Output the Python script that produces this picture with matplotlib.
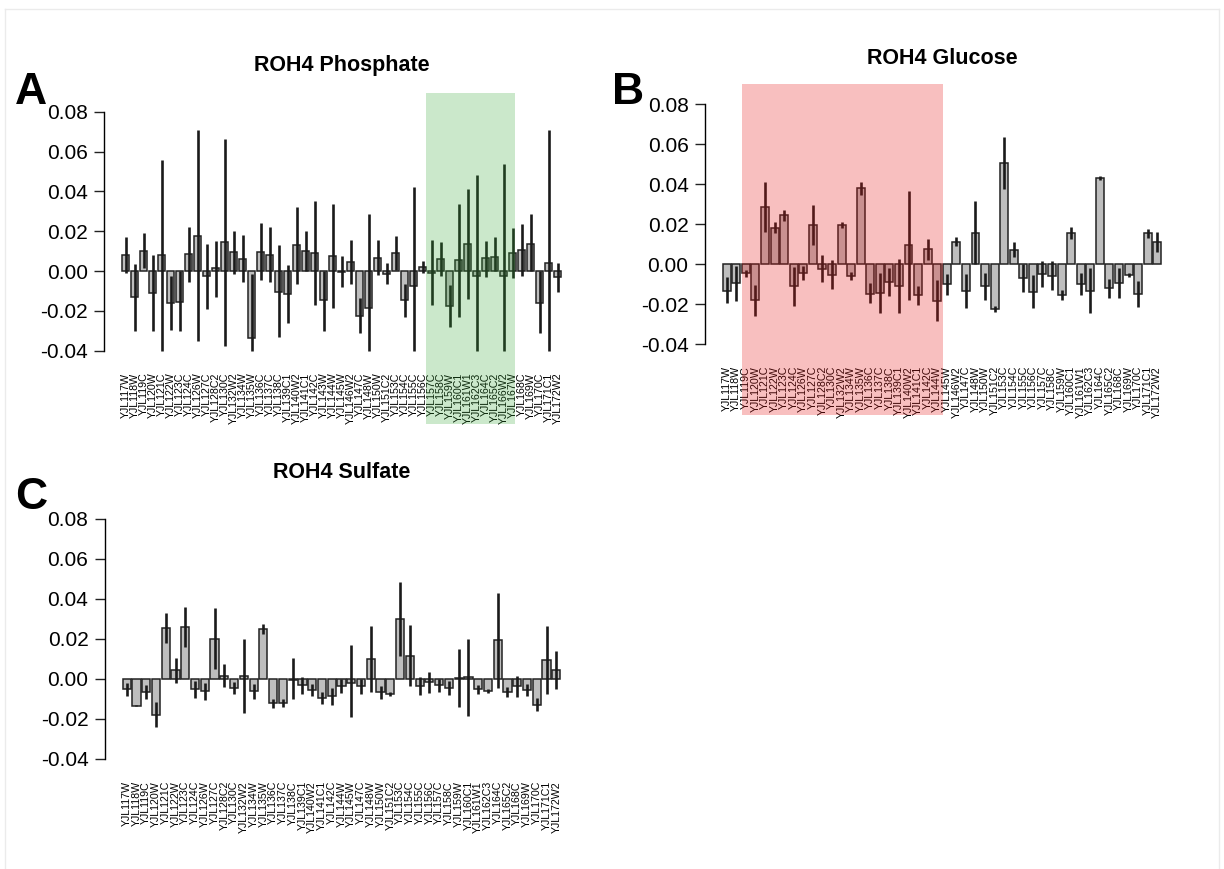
import numpy as np
import matplotlib
matplotlib.use("Agg")
import matplotlib.pyplot as plt
from matplotlib.patches import Rectangle
from matplotlib.lines import Line2D
from matplotlib.transforms import blended_transform_factory

plt.rcParams['font.family'] = ['Liberation Sans', 'DejaVu Sans']

# ---------------- Panel A: ROH4 Phosphate ----------------
A_labels = ["YJL117W","YJL118W","YJL119C","YJL120W","YJL121C","YJL122W","YJL123C","YJL124C",
            "YJL126W","YJL127C","YJL128C2","YJL130C","YJL132W2","YJL134W","YJL135W","YJL136C",
            "YJL137C","YJL138C","YJL139C1","YJL140W2","YJL141C1","YJL142C","YJL143W","YJL144W",
            "YJL145W","YJL146W2","YJL147C","YJL148W","YJL150W","YJL151C2","YJL153C","YJL154C",
            "YJL155C","YJL156C","YJL157C","YJL158C","YJL159W","YJL160C1","YJL161W1","YJL162C3",
            "YJL164C","YJL165C2","YJL166W2","YJL167W","YJL168C","YJL169W","YJL170C","YJL171C1","YJL172W2"]
A_values = [0.0082,-0.0132,0.0102,-0.0112,0.0079,-0.0162,-0.0154,0.0084,
            0.0178,-0.0027,0.0013,0.0144,0.0094,0.0062,-0.0338,0.0097,
            0.0082,-0.0104,-0.0116,0.0129,0.0099,0.0089,-0.0146,0.0077,
            -0.0005,0.0047,-0.0224,-0.0186,0.0067,-0.0015,0.0090,-0.0147,
            -0.0077,0.0022,-0.0010,0.0060,-0.0178,0.0054,0.0134,-0.0027,
            0.0064,0.0070,-0.0027,0.0089,0.0104,0.0136,-0.0162,0.0040,-0.0032]
A_hi = [0.0173,0.0035,0.0189,0.0080,0.0556,-0.0025,0.0000,0.0219,
        0.0709,0.0136,0.0152,0.0663,0.0203,0.0179,-0.0015,0.0240,
        0.0219,0.0129,0.0030,0.0323,0.0199,0.0350,0.0000,0.0337,
        0.0075,0.0156,-0.0137,0.0288,0.0156,0.0039,0.0174,-0.0065,
        0.0424,0.0052,0.0156,0.0146,-0.0070,0.0337,0.0410,0.0484,
        0.0152,0.0169,0.0536,0.0218,0.0235,0.0286,0.0000,0.0709,0.0039]
A_lo = [-0.0008,-0.0300,0.0013,-0.0300,-0.0400,-0.0298,-0.0300,-0.0055,
        -0.0353,-0.0189,-0.0129,-0.0375,-0.0015,-0.0057,-0.0400,-0.0047,
        -0.0055,-0.0333,-0.0261,-0.0065,0.0000,-0.0173,-0.0303,-0.0186,
        -0.0082,-0.0064,-0.0310,-0.0400,-0.0022,-0.0065,0.0007,-0.0230,
        -0.0400,-0.0008,-0.0171,-0.0025,-0.0281,-0.0230,-0.0142,-0.0400,
        -0.0028,0.0000,-0.0400,-0.0037,-0.0027,0.0000,-0.0313,-0.0400,-0.0104]

# ---------------- Panel B: ROH4 Glucose ----------------
B_labels = ["YJL117W","YJL118W","YJL119C","YJL120W","YJL121C","YJL122W","YJL123C","YJL124C",
            "YJL126W","YJL127C","YJL128C2","YJL130C","YJL132W2","YJL134W","YJL135W","YJL136C",
            "YJL137C","YJL138C","YJL139C1","YJL140W2","YJL141C1","YJL142C","YJL144W","YJL145W",
            "YJL146W2","YJL147C","YJL148W","YJL150W","YJL151C2","YJL153C","YJL154C","YJL155C",
            "YJL156C","YJL157C","YJL158C","YJL159W","YJL160C1","YJL161W1","YJL162C3","YJL164C",
            "YJL165C2","YJL168C","YJL169W","YJL170C","YJL171C1","YJL172W2"]
B_values = [-0.0135,-0.0097,-0.0047,-0.0182,0.0285,0.0182,0.0243,-0.0112,
            -0.0045,0.0197,-0.0023,-0.0053,0.0193,-0.0058,0.0378,-0.0148,
            -0.0145,-0.0090,-0.0112,0.0095,-0.0157,0.0073,-0.0183,-0.0100,
            0.0110,-0.0135,0.0157,-0.0110,-0.0225,0.0505,0.0072,-0.0070,
            -0.0140,-0.0050,-0.0058,-0.0153,0.0153,-0.0098,-0.0133,0.0430,
            -0.0122,-0.0097,-0.0055,-0.0148,0.0153,0.0110]
B_hi = [-0.0067,-0.0008,-0.0030,-0.0105,0.0410,0.0210,0.0270,-0.0017,
        -0.0008,0.0295,0.0045,0.0020,0.0208,-0.0038,0.0408,-0.0097,
        -0.0043,-0.0020,0.0023,0.0367,-0.0108,0.0125,-0.0078,-0.0050,
        0.0133,-0.0050,0.0317,-0.0043,-0.0208,0.0637,0.0110,0.0000,
        -0.0053,0.0017,0.0013,-0.0128,0.0183,-0.0045,-0.0022,0.0438,
        -0.0075,-0.0022,-0.0047,-0.0083,0.0175,0.0158]
B_lo = [-0.0197,-0.0183,-0.0063,-0.0258,0.0158,0.0153,0.0213,-0.0208,
        -0.0082,0.0097,-0.0092,-0.0125,0.0178,-0.0080,0.0345,-0.0195,
        -0.0245,-0.0158,-0.0247,-0.0180,-0.0203,0.0022,-0.0283,-0.0153,
        0.0088,-0.0220,0.0000,-0.0178,-0.0242,0.0373,0.0033,-0.0140,
        -0.0220,-0.0113,-0.0132,-0.0178,0.0125,-0.0153,-0.0245,0.0422,
        -0.0170,-0.0170,-0.0063,-0.0213,0.0132,0.0058]

# ---------------- Panel C: ROH4 Sulfate ----------------
C_labels = ["YJL117W","YJL118W","YJL119C","YJL120W","YJL121C","YJL122W","YJL123C","YJL124C",
            "YJL126W","YJL127C","YJL128C2","YJL130C","YJL132W2","YJL134W","YJL135W","YJL136C",
            "YJL137C","YJL138C","YJL139C1","YJL140W2","YJL141C1","YJL142C","YJL144W","YJL145W",
            "YJL147C","YJL148W","YJL150W","YJL151C2","YJL153C","YJL154C","YJL155C","YJL156C",
            "YJL157C","YJL158C","YJL159W","YJL160C1","YJL161W1","YJL162C3","YJL164C","YJL165C2",
            "YJL168C","YJL169W","YJL170C","YJL171C1","YJL172W2"]
C_values = [-0.0050,-0.0133,-0.0065,-0.0178,0.0253,0.0043,0.0260,-0.0052,
            -0.0060,0.0202,0.0015,-0.0043,0.0015,-0.0060,0.0252,-0.0122,
            -0.0120,-0.0003,-0.0028,-0.0055,-0.0095,-0.0085,-0.0037,-0.0020,
            -0.0035,0.0100,-0.0063,-0.0075,0.0300,0.0117,-0.0033,-0.0017,
            -0.0032,-0.0047,0.0005,0.0010,-0.0052,-0.0060,0.0193,-0.0065,
            -0.0037,-0.0057,-0.0128,0.0095,0.0045]
C_hi = [-0.0020,-0.0130,-0.0030,-0.0113,0.0328,0.0105,0.0362,-0.0008,
        -0.0020,0.0353,0.0073,-0.0013,0.0202,-0.0025,0.0275,-0.0100,
        -0.0100,0.0103,0.0012,-0.0025,-0.0065,-0.0045,0.0000,0.0170,
        0.0000,0.0267,-0.0033,-0.0063,0.0483,0.0270,0.0008,0.0037,
        0.0000,-0.0012,0.0150,0.0202,-0.0030,-0.0050,0.0430,-0.0042,
        0.0017,-0.0025,-0.0097,0.0263,0.0142]
C_lo = [-0.0083,-0.0137,-0.0100,-0.0242,0.0180,-0.0020,0.0158,-0.0095,
        -0.0103,0.0048,-0.0042,-0.0073,-0.0172,-0.0102,0.0225,-0.0147,
        -0.0142,-0.0100,-0.0075,-0.0087,-0.0125,-0.0128,-0.0072,-0.0192,
        -0.0077,-0.0067,-0.0100,-0.0087,0.0117,-0.0037,-0.0078,-0.0072,
        -0.0063,-0.0080,-0.0142,-0.0185,-0.0073,-0.0068,-0.0045,-0.0088,
        -0.0092,-0.0087,-0.0158,-0.0073,-0.0050]

yticks = [-0.04, -0.02, 0.00, 0.02, 0.04, 0.06, 0.08]
ytick_labels = ["-0.04", "-0.02", "0.00", "0.02", "0.04", "0.06", "0.08"]

W, H = 1224, 869
fig = plt.figure(figsize=(W / 100, H / 100), dpi=100)
fig.patch.set_facecolor("white")

# faint screenshot frame
fig.add_artist(Line2D([5 / W, 1219 / W], [1 - 9 / H, 1 - 9 / H], transform=fig.transFigure,
                      color="#ebebeb", linewidth=1))
fig.add_artist(Line2D([5 / W, 5 / W], [1 - 9 / H, 0], transform=fig.transFigure,
                      color="#ebebeb", linewidth=1))
fig.add_artist(Line2D([1219 / W, 1219 / W], [1 - 9 / H, 0], transform=fig.transFigure,
                      color="#ebebeb", linewidth=1))


def make_axes(left_px, top_px, right_px, bottom_px):
    return fig.add_axes([left_px / W, 1 - bottom_px / H,
                         (right_px - left_px) / W, (bottom_px - top_px) / H])


def draw_panel(ax, labels, values, hi, lo):
    n = len(labels)
    x = 0.7 + 1.2 * np.arange(n)
    ax.bar(x, values, width=1.0, color="#bebebe", edgecolor="#222222",
           linewidth=1.1, zorder=2)
    ax.vlines(x, lo, hi, color="#1a1a1a", linewidth=1.9, zorder=3)
    span = 1.2 * n - 0.2
    ax.set_xlim(0.2 - 0.04 * span, 1.2 * n + 0.04 * span)
    ax.set_ylim(-0.0448, 0.0848)
    ax.set_xticks(x)
    ax.set_xticklabels(labels, rotation=90, fontsize=7.7, va="top", ha="center")
    ax.tick_params(axis="x", length=0, pad=9)
    ax.set_yticks(yticks)
    ax.set_yticklabels(ytick_labels, fontsize=15)
    ax.tick_params(axis="y", length=7, width=1, pad=5, color="#222222")
    for s in ["top", "right", "bottom"]:
        ax.spines[s].set_visible(False)
    ax.spines["left"].set_bounds(-0.04, 0.08)
    ax.spines["left"].set_linewidth(1)
    ax.set_facecolor("none")
    return x


def shade(ax, x, i0, i1, left_off, right_off, top_px, bottom_px, color, alpha):
    tr = blended_transform_factory(ax.transData, fig.transFigure)
    x0 = x[i0] + left_off
    x1 = x[i1] + right_off
    y0 = 1 - bottom_px / H
    y1 = 1 - top_px / H
    r = Rectangle((x0, y0), x1 - x0, y1 - y0, transform=tr, facecolor=color,
                  alpha=alpha, edgecolor="none", zorder=10, clip_on=False)
    fig.add_artist(r)


# Panel A
axA = make_axes(104.4, 102.2, 579.0, 360.2)
xA = draw_panel(axA, A_labels, A_values, A_hi, A_lo)
shade(axA, xA, A_labels.index("YJL157C"), A_labels.index("YJL167W"),
      -0.76, 0.31, 93, 424, (0.2, 0.65, 0.2), 0.25)

# Panel B
axB = make_axes(705.2, 94.4, 1178.8, 353.6)
xB = draw_panel(axB, B_labels, B_values, B_hi, B_lo)
shade(axB, xB, B_labels.index("YJL119C"), B_labels.index("YJL144W"),
      -0.48, 0.73, 84, 415, (0.9, 0.1, 0.1), 0.28)

# Panel C
axC = make_axes(105.1, 509.4, 577.9, 768.6)
xC = draw_panel(axC, C_labels, C_values, C_hi, C_lo)

# Titles
fig.text(341.7 / W, 1 - 66 / H, "ROH4 Phosphate", fontsize=15.5, fontweight="bold",
         ha="center", va="center")
fig.text(942 / W, 1 - 58 / H, "ROH4 Glucose", fontsize=15.5, fontweight="bold",
         ha="center", va="center")
fig.text(341.5 / W, 1 - 473 / H, "ROH4 Sulfate", fontsize=15.5, fontweight="bold",
         ha="center", va="center")

# Panel letters
fig.text(31 / W, 1 - 92 / H, "A", fontsize=32, fontweight="bold", ha="center", va="center")
fig.text(628 / W, 1 - 92 / H, "B", fontsize=32, fontweight="bold", ha="center", va="center")
fig.text(31 / W, 1 - 497 / H, "C", fontsize=32, fontweight="bold", ha="center", va="center")

fig.savefig("out.png", dpi=100, facecolor="white")
